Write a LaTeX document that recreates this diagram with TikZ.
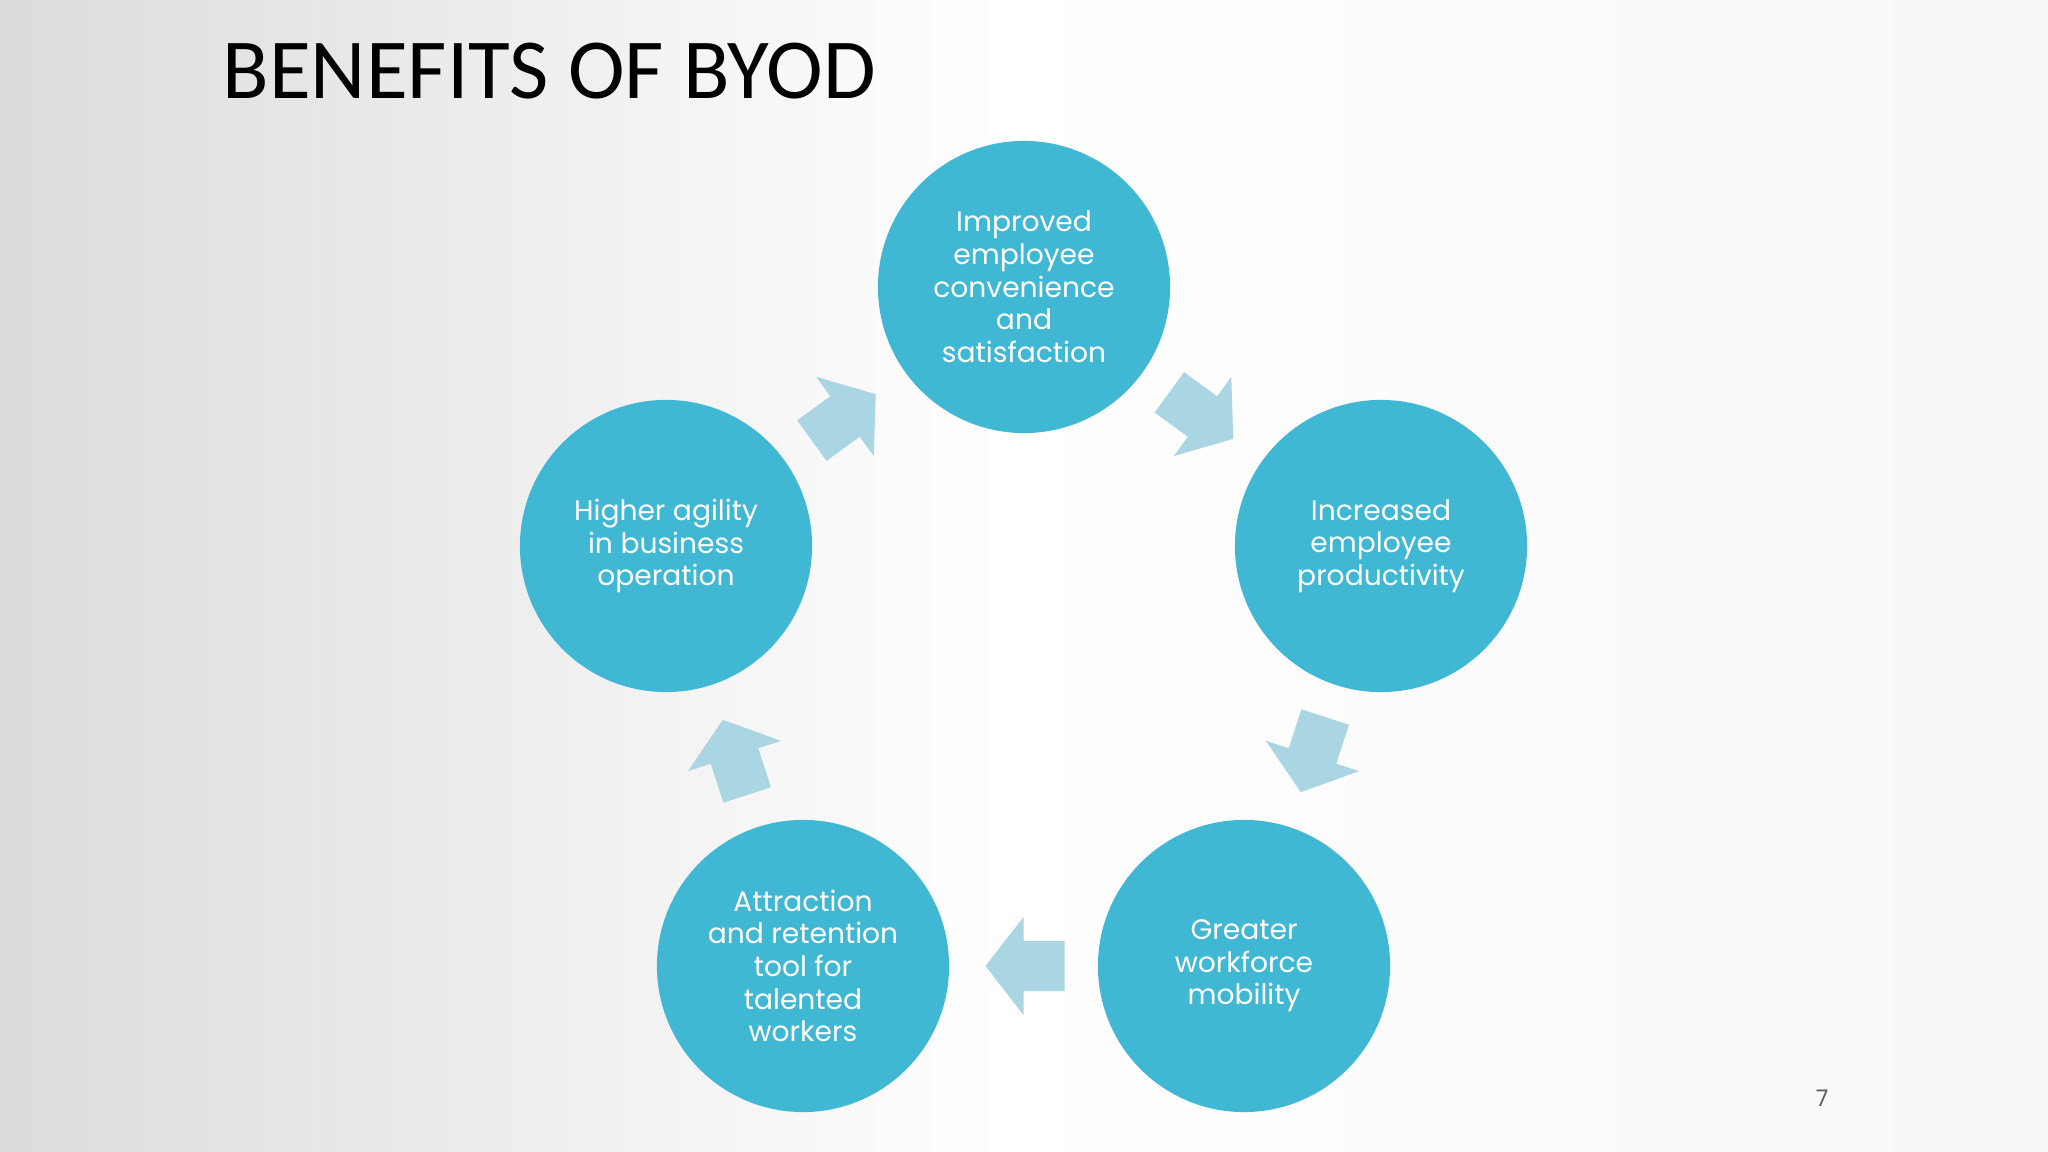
\documentclass[tikz,border=0pt]{standalone}
\usepackage{fontspec}
\setmainfont{Poppins}
\newfontfamily\titlefont{Carlito}
\usetikzlibrary{calc}
\definecolor{bubble}{RGB}{64,184,212}
\definecolor{pale}{RGB}{170,214,228}
\definecolor{pagegray}{RGB}{90,90,90}

\tikzset{
  benefit/.style={circle, fill=bubble, minimum size=2.92cm, inner sep=0pt,
    text=white, align=center, font=\fontsize{8}{9.3}\selectfont},
  flow/.pic={\fill[pale] (-41,-25) -- (0,-25) -- (0,-49) -- (38,0) -- (0,49) -- (0,25) -- (-41,25) -- cycle;}
}

\begin{document}
\begin{tikzpicture}[x=0.01cm, y=-0.01cm]
  % Slide background, 2048 x 1152 px
  \useasboundingbox (0,0) rectangle (2048,1152);
  \shade[left color=black!14, right color=white] (0,0) rectangle (1000,1152);
  \shade[left color=white, right color=black!3] (999,0) rectangle (2048,1152);

  % Title
  \node[anchor=base west, inner sep=0pt, font=\titlefont\fontsize{24.3}{29}\selectfont] (title) at (222,99) {BENEFITS OF BYOD};

  % Benefits (pentagon, centre 1024/662, radius 375)
  \node[benefit] (imp) at (1024,287) {Improved\\employee\\convenience\\and\\satisfaction};
  \node[benefit] (inc) at (1381,546) {Increased\\employee\\productivity};
  \node[benefit] (mob) at (1244,966) {Greater\\workforce\\mobility};
  \node[benefit] (att) at (803,966) {Attraction\\and retention\\tool for\\talented\\workers};
  \node[benefit] (agi) at (666,546) {Higher agility\\in business\\operation};

  % Block arrows between the circles
  \pic[rotate=-36]  at ($(imp)!0.5!(inc)$) {flow};
  \pic[rotate=-108] at ($(inc)!0.5!(mob)$) {flow};
  \pic[rotate=180]  at ($(mob)!0.5!(att)$) {flow};
  \pic[rotate=108]  at ($(att)!0.5!(agi)$) {flow};
  \pic[rotate=36]   at ($(agi)!0.5!(imp)$) {flow};

  % Slide number
  \node[anchor=base, inner sep=0pt, text=pagegray, font=\fontsize{6.5}{8}\selectfont] (pg) at (1822,1106) {7};
\end{tikzpicture}
\end{document}
